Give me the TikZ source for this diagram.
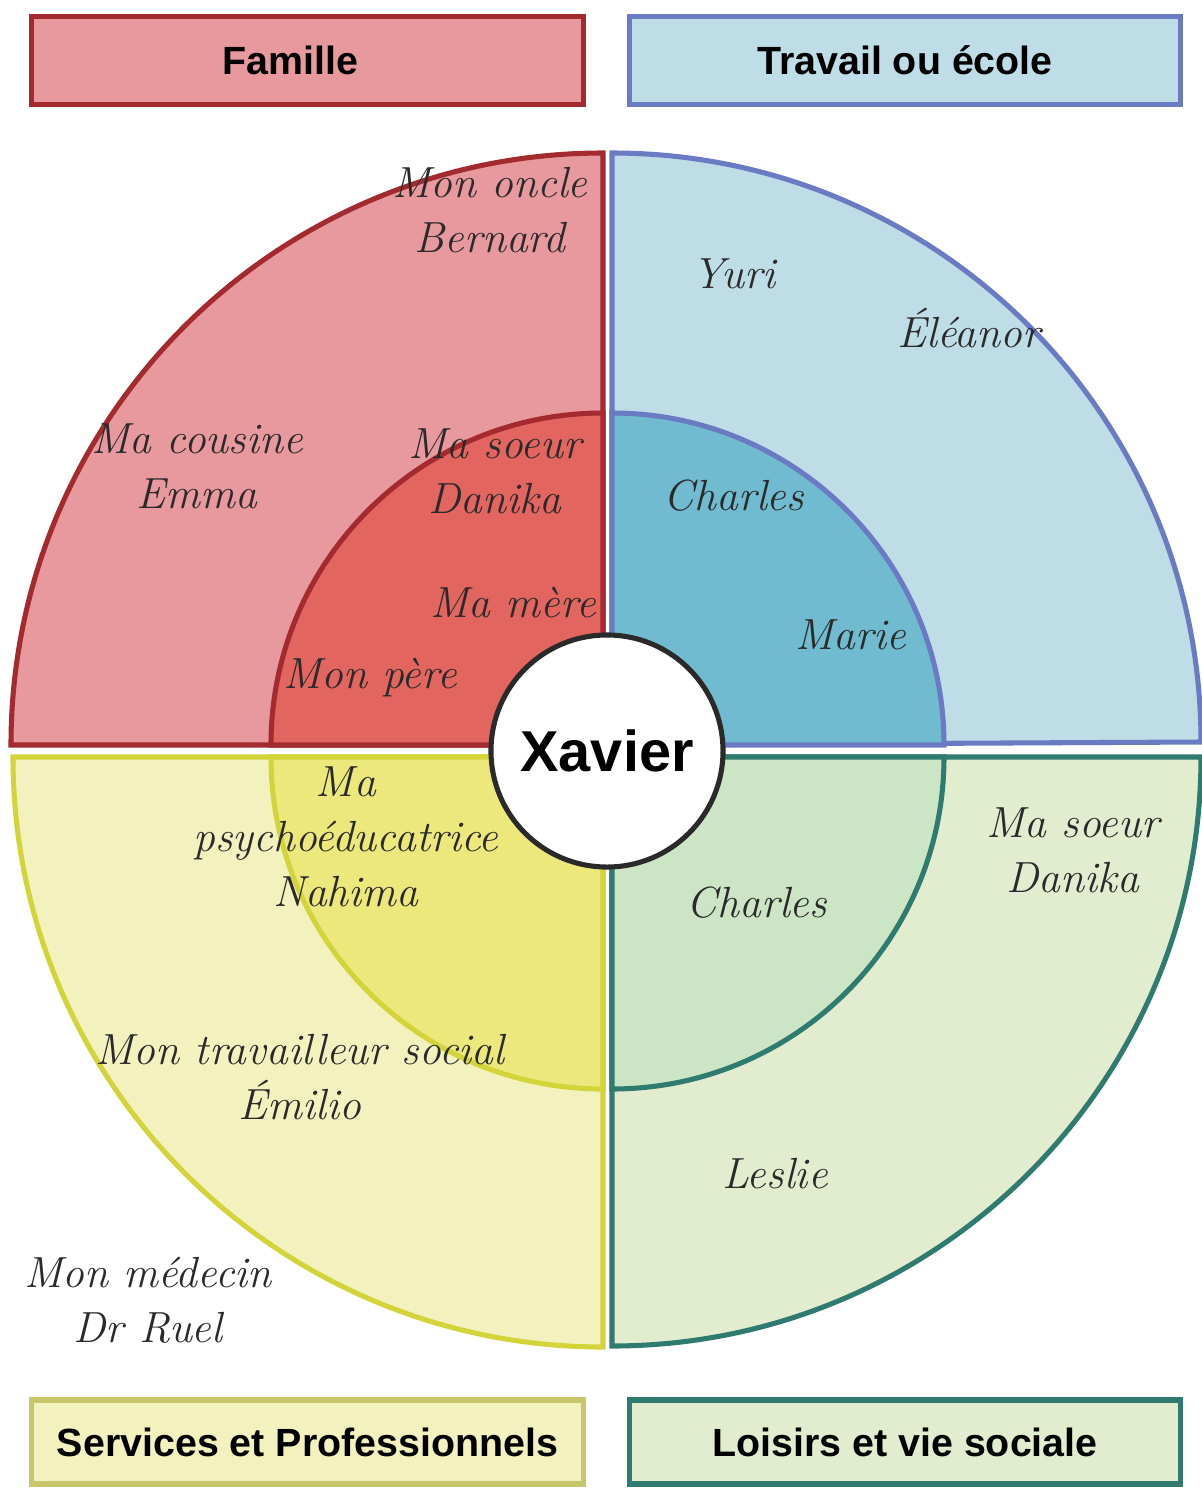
\documentclass[tikz,border=0pt]{standalone}
\usepackage{fontspec}
\newfontfamily\hdr{Liberation Sans}
\definecolor{tlB}{HTML}{A32A2F}
\definecolor{tlO}{HTML}{E7999E}
\definecolor{tlI}{HTML}{E3655F}
\definecolor{trB}{HTML}{6A7BC3}
\definecolor{trO}{HTML}{BEDDE6}
\definecolor{trI}{HTML}{70BBD0}
\definecolor{blB}{HTML}{D2D43A}
\definecolor{blO}{HTML}{F3F2BF}
\definecolor{blI}{HTML}{ECE87C}
\definecolor{brB}{HTML}{2F7B70}
\definecolor{brO}{HTML}{E2EDD0}
\definecolor{brI}{HTML}{CBE5C5}
\definecolor{svB}{HTML}{C8C66A}
\definecolor{ink}{HTML}{2A2A2A}
\begin{document}
\begin{tikzpicture}[x=0.025cm,y=-0.025cm,
  sector/.style={line width=3.6pt, line join=miter},
  hand/.style={font=\itshape\fontsize{31}{39}\selectfont, text=ink, align=center, inner sep=0pt},
  hdrbox/.style={line width=3.6pt, minimum width=13.775cm, minimum height=2.2cm, inner sep=0pt,
    font=\hdr\bfseries\fontsize{28}{32}\selectfont, text=black}]
\useasboundingbox (0,0) rectangle (1202,1488);
% top-left (Famille)
\draw[sector, draw=tlB, fill=tlO] (603,745) -- (11,745) arc[start angle=180,end angle=270,radius=592] -- cycle;
\draw[sector, draw=tlB, fill=tlI] (603,745) -- (271,745) arc[start angle=180,end angle=270,radius=332] -- cycle;
% top-right (Travail)
\draw[sector, draw=trB, fill=trO] (612,745) -- (612,153) arc[start angle=270,end angle=360,radius=589] -- cycle;
\draw[sector, draw=trB, fill=trI] (612,745) -- (612,413) arc[start angle=270,end angle=360,radius=332] -- cycle;
% bottom-left (Services)
\draw[sector, draw=blB, fill=blO] (603,757) -- (603,1347) arc[start angle=90,end angle=180,radius=590] -- cycle;
\draw[sector, draw=blB, fill=blI] (603,757) -- (603,1089) arc[start angle=90,end angle=180,radius=332] -- cycle;
% bottom-right (Loisirs)
\draw[sector, draw=brB, fill=brO] (612,757) -- (1201,757) arc[start angle=0,end angle=90,radius=589] -- cycle;
\draw[sector, draw=brB, fill=brI] (612,757) -- (944,757) arc[start angle=0,end angle=90,radius=332] -- cycle;
% centre
\node[circle, draw=ink, line width=3.6pt, fill=white, minimum size=5.8cm, inner sep=0pt,
  font=\hdr\bfseries\fontsize{41}{48}\selectfont] (xavier) at (607,751) {Xavier};
% headers
\node[hdrbox, draw=tlB, fill=tlO] (famille) at (307.5,60.5) {Famille\hspace*{0.85cm}};
\node[hdrbox, draw=trB, fill=trO] (travail) at (905,60.5) {Travail ou école};
\node[hdrbox, draw=svB, fill=blO, minimum height=2.1cm] (services) at (307.5,1442) {Services et Professionnels};
\node[hdrbox, draw=brB, fill=brO, minimum height=2.1cm] (loisirs) at (905,1442) {Loisirs et vie sociale};
% names
\node[hand] (oncle) at (490,210) {Mon oncle\\Bernard};
\node[hand] (cousine) at (197,466) {Ma cousine\\Emma};
\node[hand] (soeur1) at (495,471) {Ma soeur\\Danika};
\node[hand] (mere) at (513,603) {Ma mère};
\node[hand] (pere) at (370,678) {Mon père};
\node[hand] (yuri) at (734,274) {Yuri};
\node[hand] (eleanor) at (969,328) {Éléanor};
\node[hand] (charles1) at (734,496) {Charles};
\node[hand] (marie) at (851,635) {Marie};
\node[hand] (psycho) at (346,837) {Ma\\psychoéducatrice\\Nahima};
\node[hand] (charles2) at (757,903) {Charles};
\node[hand] (soeur2) at (1073,850) {Ma soeur\\Danika};
\node[hand] (social) at (300,1077) {Mon travailleur social\\Émilio};
\node[hand] (leslie) at (775,1174) {Leslie};
\node[hand] (medecin) at (148,1300) {Mon médecin\\Dr Ruel};
\end{tikzpicture}
\end{document}
